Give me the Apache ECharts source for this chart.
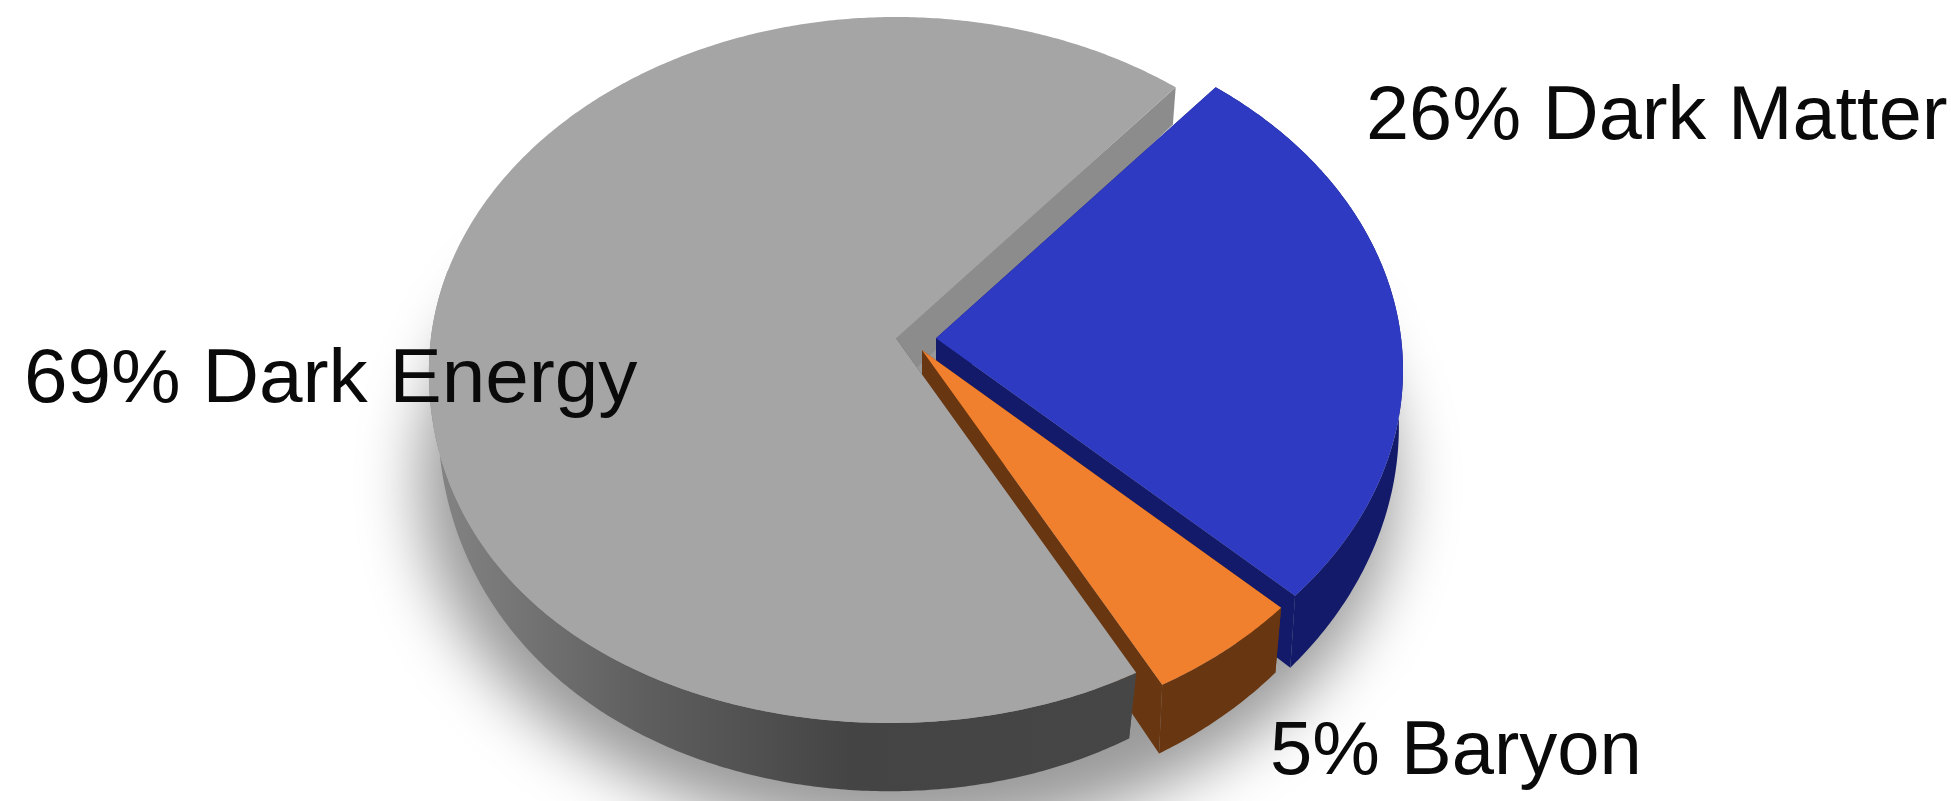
<!DOCTYPE html>
<html><head><meta charset="utf-8">
<style>html,body{margin:0;padding:0;background:#fff}#c{width:1951px;height:801px}</style>
<script src="https://cdn.jsdelivr.net/npm/echarts@6/dist/echarts.min.js"></script>
</head><body><div id="c"></div>
<script>
const names = ['Dark Energy', 'Dark Matter', 'Baryon'];
const shares = [69, 26, 5];
const labels = ['69% Dark Energy', '26% Dark Matter', '5% Baryon'];

const topColors = ['#a5a5a5', '#2e3ac2', '#f07f2e'];
const sideColors = [null, '#131a69', '#683610'];
const CX = 896, CY = 370, RX = 467, RY = 353, S = 0.09;
const START = 151.6;
const OFFSET_X = [0, 40, 26], OFFSET_Y = [0, 0, 12];
const EXTRA_DEPTH = [0, 10, 3], LOWER_SHIFT = [0, 5, 4];
const LAYER_OUTER = [30, 10, 20], LAYER_INNER = [5, 10, 20], LAYER_TOP = [31, 11, 40];
const LABEL_X = [24, 1366, 1270], LABEL_Y = [381, 118, 753], LABEL_STRETCH = [1.03, 1.02, 1.0];
const FONT = 'Liberation Sans';
const WARP_FROM = 152, WARP_TO = 268, WARP_AMOUNT = 14;
const GRAY_WALL_SWEEP = 130;

function project(theta, r, lower, dx, dy, extra, shift) {
  const t = theta * Math.PI / 180;
  const u = r * Math.sin(t), v = -r * Math.cos(t);
  const d = 1 - S * v;
  let x = CX + RX * u * Math.sqrt(1 - S * S) / d;
  let y = CY + RY * (v - S) / d;
  const m = ((theta % 360) + 360) % 360;
  if (r > 0 && m > WARP_FROM && m < WARP_TO) {
    const b = Math.sin(Math.PI * (m - WARP_FROM) / (WARP_TO - WARP_FROM));
    x -= WARP_AMOUNT * b * b;
  }
  if (lower) {
    const q = Math.min(1, Math.max(0, (y - 87) / 590));
    x = CX + (x - CX) * (0.99 - 0.02 * q) + (r > 0 ? (shift || 0) : 0);
    y = y * 1.049 + 32.8 + (extra || 0);
  }
  return [x + dx, y + dy];
}
function arc(a0, a1, lower, dx, dy, extra, shift) {
  const pts = [], n = Math.ceil(Math.abs(a1 - a0) * 2);
  for (let i = 0; i <= n; i++) pts.push(project(a0 + (a1 - a0) * i / n, 1, lower, dx, dy, extra, shift));
  return pts;
}
const total = shares.reduce((a, b) => a + b, 0);

function renderItem(params, api) {
  const i = params.dataIndex;
  let a0 = START;
  for (let k = 0; k < i; k++) a0 += shares[k] / total * 360;
  const a1 = a0 + api.value(1) / total * 360;
  const dx = OFFSET_X[i], dy = OFFSET_Y[i], ex = EXTRA_DEPTH[i], sh = LOWER_SHIFT[i];
  const poly = (points, fill, z2, extra) => ({
    type: 'polygon', silent: true, z2, shape: { points },
    style: Object.assign({ fill }, extra || {})
  });
  const children = [];
  if (i === 0) {
    const ring = [], FAR = 4000;
    for (let a = 0; a < 360; a += 1) {
      const t = a * Math.PI / 180;
      ring.push([CX + 12 + 488 * Math.sin(t) - FAR, CY + 112 - 354 * Math.cos(t)]);
    }
    children.push(poly(ring, '#000', 1, {
      shadowBlur: 62, shadowColor: 'rgba(0,0,0,0.40)', shadowOffsetX: FAR, shadowOffsetY: 0
    }));
  }
  const outerFill = i === 0 ? {
    type: 'linear', x: 429, y: 0, x2: 1135, y2: 0, global: true,
    colorStops: [{ offset: 0, color: '#858585' }, { offset: 0.3, color: '#5f5f5f' },
                 { offset: 0.6, color: '#444444' }, { offset: 1, color: '#464646' }]
  } : sideColors[i];
  const top = arc(a0, a1, false, dx, dy);
  const wallEnd = i === 0 ? a0 + GRAY_WALL_SWEEP : a1;
  const wallTop = arc(a0, wallEnd, false, dx, dy);
  const wallBottom = arc(wallEnd, a0, true, dx, dy, ex, sh);
  const aT = project(0, 0, false, dx, dy), aB = project(0, 0, true, dx, dy, ex, sh);
  children.push(poly(wallTop.concat(wallBottom), outerFill, LAYER_OUTER[i]));
  const cornerT0 = project(a0, 1, false, dx, dy), cornerB0 = project(a0, 1, true, dx, dy, ex, sh);
  const cornerT1 = project(a1, 1, false, dx, dy), cornerB1 = project(a1, 1, true, dx, dy, ex, sh);
  children.push(poly([aT, cornerT1, cornerB1, aB], i === 0 ? '#8c8c8c' : sideColors[i], LAYER_INNER[i]));
  children.push(poly([aT, cornerT0, cornerB0, aB], i === 0 ? '#464646' : sideColors[i], LAYER_INNER[i]));
  children.push(poly([aT].concat(top), topColors[i], LAYER_TOP[i]));
  return { type: 'group', children };
}

const chart = echarts.init(document.getElementById('c'), null, { renderer: 'canvas' });
chart.setOption({
  animation: false,
  backgroundColor: '#ffffff',
  tooltip: { show: false },
  series: [{
    type: 'custom',
    coordinateSystem: 'none',
    renderItem,
    silent: true,
    data: names.map((n, i) => ({ name: n, value: [i, shares[i]] }))
  }],
  graphic: labels.map((t, i) => ({
    type: 'text', z: 100, silent: true, x: LABEL_X[i], y: LABEL_Y[i], scaleX: LABEL_STRETCH[i],
    style: { text: t, fill: '#0a0a0a', font: '76px "' + FONT + '"', textAlign: 'left', textVerticalAlign: 'middle' }
  }))
});
</script></body></html>
